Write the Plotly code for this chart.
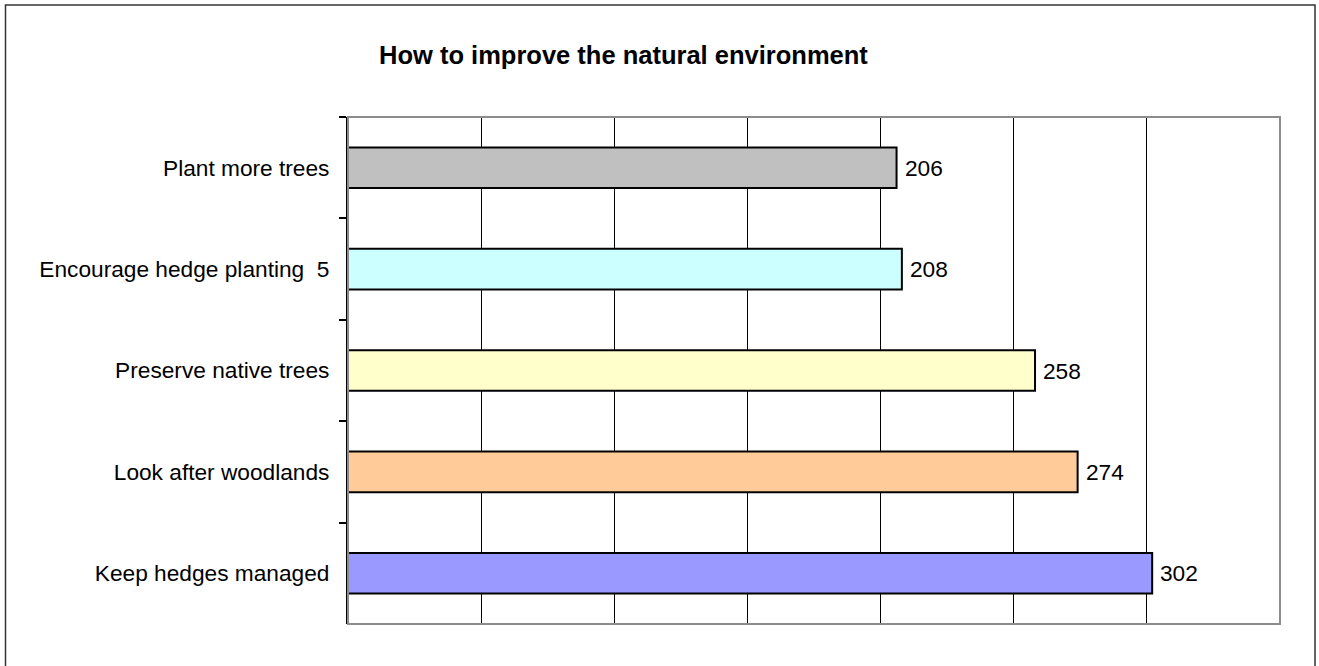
import plotly.graph_objects as go

categories = ["Plant more trees", "Encourage hedge planting  5", "Preserve native trees",
              "Look after woodlands", "Keep hedges managed"]
values = [206, 208, 258, 274, 302]
colors = ["#C0C0C0", "#CCFFFF", "#FFFFCC", "#FFCC99", "#9999FF"]
title_text = "How to improve the natural environment"

W, H = 1319, 666
L, R, T, B = 348, 1280, 117, 624  # plot area px
pw, ph = R - L, B - T

def px(x):
    return (x - L) / pw

def py(y):
    return (B - y) / ph

FONT = "Arial, Liberation Sans, sans-serif"

fig = go.Figure()
fig.add_trace(go.Bar(
    x=values, y=categories, orientation="h", width=0.4,
    marker=dict(color=colors, line=dict(color="black", width=2)),
    hoverinfo="skip", showlegend=False,
))

annotations = [
    dict(x=v, y=c, xref="x", yref="y", text=str(v), showarrow=False,
         xanchor="left", yanchor="middle", xshift=6,
         font=dict(family=FONT, size=22.7, color="black"))
    for v, c in zip(values, categories)
]
annotations.append(dict(
    x=px(623.5), y=py(55), xref="paper", yref="paper", text="<b>" + title_text + "</b>",
    showarrow=False, xanchor="center", yanchor="middle",
    font=dict(family=FONT, size=25.5, color="black")))

shapes = [
    dict(type="rect", xref="paper", yref="paper", x0=0, x1=1, y0=0, y1=1,
         line=dict(color="#8c8c8c", width=2), layer="above"),
    dict(type="rect", xref="paper", yref="paper", x0=px(5.5), x1=px(1315),
         y0=py(5), y1=py(668), line=dict(color="#333333", width=1.5), layer="above"),
]

fig.update_layout(
    width=W, height=H,
    margin=dict(l=L, r=W - R, t=T, b=H - B, pad=0),
    paper_bgcolor="white", plot_bgcolor="white",
    font=dict(family=FONT, size=22.7, color="black"),
    annotations=annotations, shapes=shapes,
)
fig.update_xaxes(range=[0, 350], dtick=50, tick0=0, showgrid=True, gridcolor="black",
                 gridwidth=1, showticklabels=False, zeroline=False, showline=False,
                 ticks="", fixedrange=True)
fig.update_yaxes(autorange="reversed", showline=True, linecolor="black", linewidth=2,
                 ticks="outside", ticklen=7, tickwidth=1.5, tickcolor="black",
                 tickson="boundaries", showgrid=False, zeroline=False,
                 tickfont=dict(family=FONT, size=22.7, color="black"),
                 ticklabelstandoff=12, fixedrange=True)

fig.write_html("out.html", config={"displayModeBar": False},
               post_script="document.body.style.margin='0px';")
